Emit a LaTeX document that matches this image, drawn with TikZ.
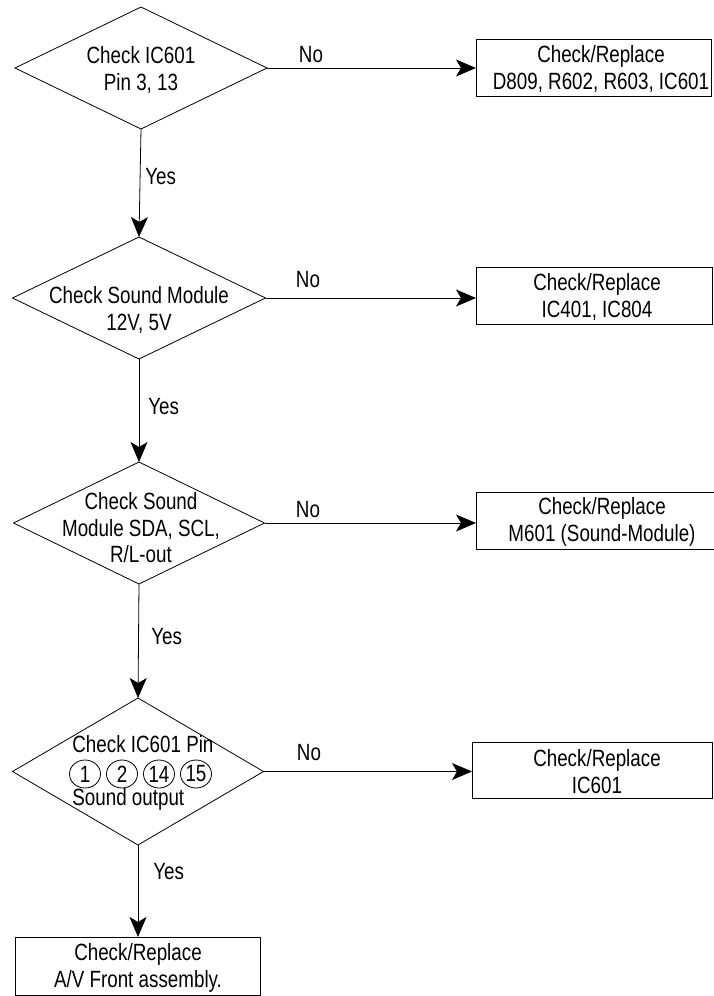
\documentclass[tikz,border=0pt]{standalone}
\usepackage{fontspec}
\setmainfont{Liberation Sans}[FakeStretch=0.80]
\usetikzlibrary{shapes.geometric,arrows.meta}
\newcommand{\flowfont}{\fontsize{23.5}{26.5}\selectfont}
\begin{document}
\begin{tikzpicture}[x=1pt,y=-1pt,line width=0.8pt,
  dia/.style n args={2}{draw,diamond,inner sep=0pt,outer sep=0pt,minimum width=#1,minimum height=#2},
  boxr/.style={draw,rectangle,inner sep=0pt,outer sep=0pt},
  txt/.style={inner sep=0pt,align=center,font=\flowfont},
  lbl/.style={inner sep=0pt,font=\flowfont},
  cnum/.style={draw,ellipse,inner sep=0pt,outer sep=0pt,minimum width=31pt,minimum height=28pt,font=\flowfont},
  arr/.style={-{Stealth[length=20pt,width=17pt,inset=5pt]}}]
\useasboundingbox (0,0) rectangle (714,996);

% decisions
\node[dia={252pt}{122pt}] (d1) at (141,68) {};
\node[txt] (t1) at (141,70) {Check IC601\\Pin 3, 13};
\node[dia={253pt}{122pt}] (d2) at (139,298) {};
\node[txt] (t2) at (139,310) {Check Sound Module\\12V, 5V};
\node[dia={251pt}{122pt}] (d3) at (139,523) {};
\node[txt] (t3) at (141,528) {Check Sound\\Module SDA, SCL,\\R/L-out};
\node[dia={251pt}{147pt}] (d4) at (138,771.5) {};
\node[lbl,anchor=base west] (t4a) at (72,752) {Check IC601 Pin};
\node[cnum] (c1) at (85,774) {1};
\node[cnum] (c2) at (122,774) {2};
\node[cnum] (c3) at (159,774) {14};
\node[cnum] (c4) at (196,774) {15};
\node[lbl,anchor=base west] (t4c) at (72,805) {Sound output};

% result boxes
\node[boxr,minimum width=235pt,minimum height=57pt] (b1) at (593.5,67.5) {};
\node[txt] (tb1) at (601,69) {Check/Replace\\D809, R602, R603, IC601};
\node[boxr,minimum width=236pt,minimum height=57pt] (b2) at (594,295.5) {};
\node[txt] (tb2) at (597,297) {Check/Replace\\IC401, IC804};
\node[boxr,minimum width=260pt,minimum height=57pt] (b3) at (606,520.5) {};
\node[txt] (tb3) at (602,522) {Check/Replace\\M601 (Sound-Module)};
\node[boxr,minimum width=240pt,minimum height=56pt] (b4) at (592,770) {};
\node[txt] (tb4) at (597,771.5) {Check/Replace\\IC601};
\node[boxr,minimum width=245pt,minimum height=58pt] (b5) at (137.5,966) {};
\node[txt] (tb5) at (138,968) {Check/Replace\\A/V Front assembly.};

% connectors
\draw[arr] (d1.east) -- (d1.east -| b1.west);
\draw[arr] (d2.east) -- (d2.east -| b2.west);
\draw[arr] (d3.east) -- (d3.east -| b3.west);
\draw[arr] (d4.east) -- (d4.east -| b4.west);
\draw[arr] (d1.south) -- (d2.north);
\draw[arr] (d2.south) -- (d3.north);
\draw[arr] (d3.south) -- (d4.north);
\draw[arr] (d4.south) -- (d4.south |- b5.north);

% labels
\node[lbl] (n1) at (311,55) {No};
\node[lbl] (n2) at (308,280) {No};
\node[lbl] (n3) at (308,510) {No};
\node[lbl] (n4) at (309,753) {No};
\node[lbl,anchor=west] (y1) at (145,177) {Yes};
\node[lbl,anchor=west] (y2) at (148,407) {Yes};
\node[lbl,anchor=west] (y3) at (151,637) {Yes};
\node[lbl,anchor=west] (y4) at (153,872) {Yes};
\end{tikzpicture}
\end{document}
